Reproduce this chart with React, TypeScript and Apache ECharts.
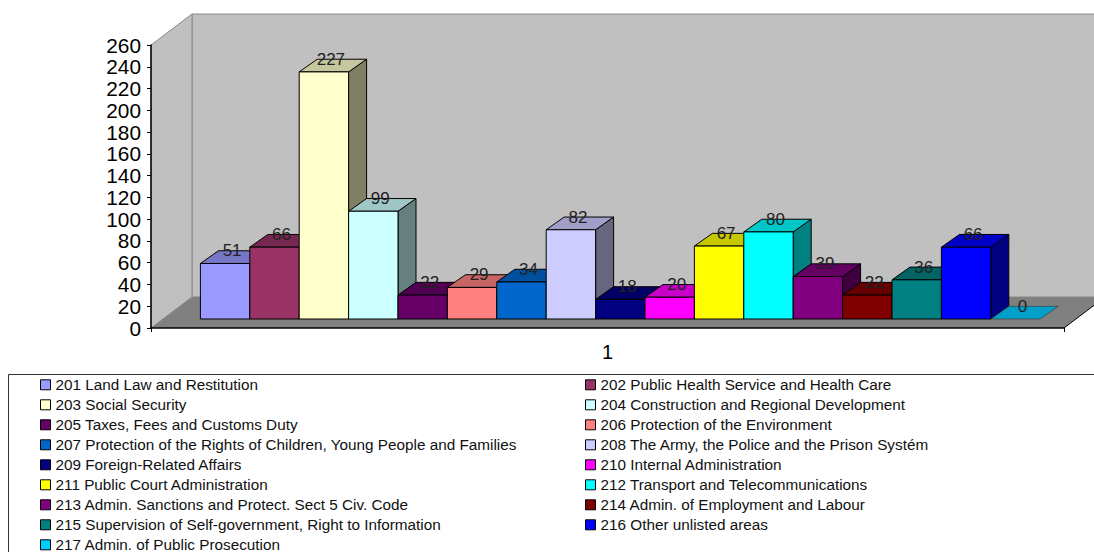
import React, { useEffect, useRef } from "react";
import * as echarts from "echarts";

const categories = ["1"];
const seriesNames = [
  "201 Land Law and Restitution",
  "202 Public Health Service and Health Care",
  "203 Social Security",
  "204 Construction and Regional Development",
  "205 Taxes, Fees and Customs Duty",
  "206 Protection of the Environment",
  "207 Protection of the Rights of Children, Young People and Families",
  "208 The Army, the Police and the Prison Systém",
  "209 Foreign-Related Affairs",
  "210 Internal Administration",
  "211 Public Court Administration",
  "212 Transport and Telecommunications",
  "213 Admin. Sanctions and Protect. Sect 5 Civ. Code",
  "214 Admin. of Employment and Labour",
  "215 Supervision of Self-government, Right to Information",
  "216 Other unlisted areas",
  "217 Admin. of Public Prosecution",
];
const seriesValues = [51, 66, 227, 99, 22, 29, 34, 82, 18, 20, 67, 80, 39, 22, 36, 66, 0];
const seriesColors = [
  "#9999FF", "#993366", "#FFFFCC", "#CCFFFF", "#660066", "#FF8080", "#0066CC", "#CCCCFF", "#000080",
  "#FF00FF", "#FFFF00", "#00FFFF", "#800080", "#800000", "#008080", "#0000FF", "#00CCFF",
];

const FONT = '"Liberation Sans", Arial, sans-serif';

// Oblique projection of the box: how far the floor and each bar recede.
const WALL_DX = 41;
const WALL_DY = -31;
const BAR_FRONT_DX = 12.8;
const BAR_FRONT_DY = -9;
const BAR_DEPTH_DX = 18;
const BAR_DEPTH_DY = -12.7;
const BAR_BAND_SHARE = 49.4 / 913;

function shade(hex: string, k: number) {
  const n = parseInt(hex.slice(1), 16);
  const c = [(n >> 16) & 255, (n >> 8) & 255, n & 255].map((v) => Math.round(v * k));
  return `rgb(${c[0]},${c[1]},${c[2]})`;
}

// Back wall, side wall and floor of the box, derived from the grid rectangle.
function renderWalls(params: any) {
  const { x, y, width, height } = params.coordSys;
  const bottom = y + height;
  const right = x + width;
  const wall = { fill: "#C0C0C0", stroke: "#8A8A8A", lineWidth: 1 };
  return {
    type: "group",
    children: [
      {
        type: "polygon",
        shape: { points: [[x + WALL_DX, y + WALL_DY], [right + WALL_DX, y + WALL_DY], [right + WALL_DX, bottom + WALL_DY], [x + WALL_DX, bottom + WALL_DY]] },
        style: wall,
      },
      {
        type: "polygon",
        shape: { points: [[x, y], [x + WALL_DX, y + WALL_DY], [x + WALL_DX, bottom + WALL_DY], [x, bottom]] },
        style: wall,
      },
      {
        type: "polygon",
        shape: { points: [[x, bottom], [x + WALL_DX, bottom + WALL_DY], [right + WALL_DX, bottom + WALL_DY], [right, bottom]] },
        style: { fill: "#808080" },
      },
      {
        type: "line",
        shape: { x1: right, y1: bottom, x2: right + WALL_DX, y2: bottom + WALL_DY },
        style: { stroke: "#000", lineWidth: 1 },
      },
    ],
  };
}

function barRenderer(index: number) {
  return (_params: any, api: any) => {
    const value = api.value(1);
    const band = api.size([1, 0])[0];
    const w = band * BAR_BAND_SHARE;
    const top = api.coord([0, value]);
    const base = api.coord([0, 0]);
    const x0 = top[0] + BAR_FRONT_DX + (index - seriesValues.length / 2) * w;
    const x1 = x0 + w;
    const yTop = top[1] + BAR_FRONT_DY;
    const yBase = base[1] + BAR_FRONT_DY;
    const color = seriesColors[index];
    const edge = { stroke: "#000", lineWidth: 1 };
    const children: any[] = [];
    if (value > 0) {
      children.push({
        type: "polygon",
        shape: { points: [[x1, yTop], [x1 + BAR_DEPTH_DX, yTop + BAR_DEPTH_DY], [x1 + BAR_DEPTH_DX, yBase + BAR_DEPTH_DY], [x1, yBase]] },
        style: { fill: shade(color, 0.5), ...edge },
      });
    }
    children.push({
      type: "polygon",
      shape: { points: [[x0, yTop], [x0 + BAR_DEPTH_DX, yTop + BAR_DEPTH_DY], [x1 + BAR_DEPTH_DX, yTop + BAR_DEPTH_DY], [x1, yTop]] },
      style: { fill: shade(color, 0.78), ...(value > 0 ? edge : { stroke: "#333", lineWidth: 0.6 }) },
    });
    if (value > 0) {
      children.push({
        type: "rect",
        shape: { x: x0, y: yTop, width: w, height: yBase - yTop },
        style: { fill: color, ...edge },
      });
    }
    children.push({
      type: "text",
      x: (x0 + x1) / 2 + 7,
      y: yTop + BAR_DEPTH_DY,
      z2: 100,
      style: {
        text: String(value),
        align: "center",
        verticalAlign: "middle",
        fontFamily: FONT,
        fontSize: 17,
        fill: "#222",
      },
    });
    return { type: "group", children };
  };
}

function legendFor(names: string[], left: number) {
  return {
    show: true,
    orient: "vertical",
    left,
    top: 377,
    height: 400,
    padding: 0,
    itemWidth: 10,
    itemHeight: 10,
    itemGap: 4.4,
    icon: "rect",
    selectedMode: false,
    itemStyle: { borderColor: "#000", borderWidth: 1 },
    textStyle: { fontFamily: FONT, fontSize: 15.3, lineHeight: 15.6, color: "#111" },
    data: names,
  };
}

export default function App() {
  const ref = useRef<HTMLDivElement>(null);

  useEffect(() => {
    const chart = echarts.init(ref.current!, undefined, { renderer: "svg" });
    const barSeries = seriesNames.map((name, i) => ({
      type: "custom",
      name,
      z: 3,
      silent: true,
      itemStyle: { color: seriesColors[i] },
      encode: { x: 0, y: 1 },
      data: [[0, seriesValues[i]]],
      renderItem: barRenderer(i),
    }));
    chart.setOption({
      animation: false,
      backgroundColor: "#fff",
      grid: { left: 151, top: 45, width: 913, height: 283, containLabel: false },
      xAxis: {
        type: "category",
        data: categories,
        z: 5,
        axisLine: { lineStyle: { color: "#000", width: 1.5 } },
        axisTick: { show: true, length: 4, lineStyle: { color: "#000" } },
        axisLabel: { fontFamily: FONT, fontSize: 20, color: "#000", margin: 14 },
      },
      yAxis: {
        type: "value",
        min: 0,
        max: 260,
        interval: 20,
        z: 5,
        splitLine: { show: false },
        axisLine: { show: true, lineStyle: { color: "#000", width: 1.5 } },
        axisTick: { show: true, length: 4, lineStyle: { color: "#000" } },
        axisLabel: { fontFamily: FONT, fontSize: 20.8, color: "#000", margin: 10 },
      },
      legend: [
        legendFor(seriesNames.filter((_, i) => i % 2 === 0), 40),
        legendFor(seriesNames.filter((_, i) => i % 2 === 1), 585),
      ],
      graphic: [
        {
          type: "rect",
          silent: true,
          z: 0,
          shape: { x: 8.5, y: 374.5, width: 1100, height: 200 },
          style: { fill: "#fff", stroke: "#333", lineWidth: 1 },
        },
      ],
      series: [
        {
          type: "custom",
          name: "walls",
          z: 1,
          silent: true,
          encode: { x: 0, y: 1 },
          data: [[0, 0]],
          renderItem: renderWalls,
        },
        ...barSeries,
      ],
    });
    return () => chart.dispose();
  }, []);

  return (
    <div
      ref={ref}
      style={{ position: "absolute", left: 0, top: 0, width: 1094, height: 552, overflow: "hidden" }}
    />
  );
}
